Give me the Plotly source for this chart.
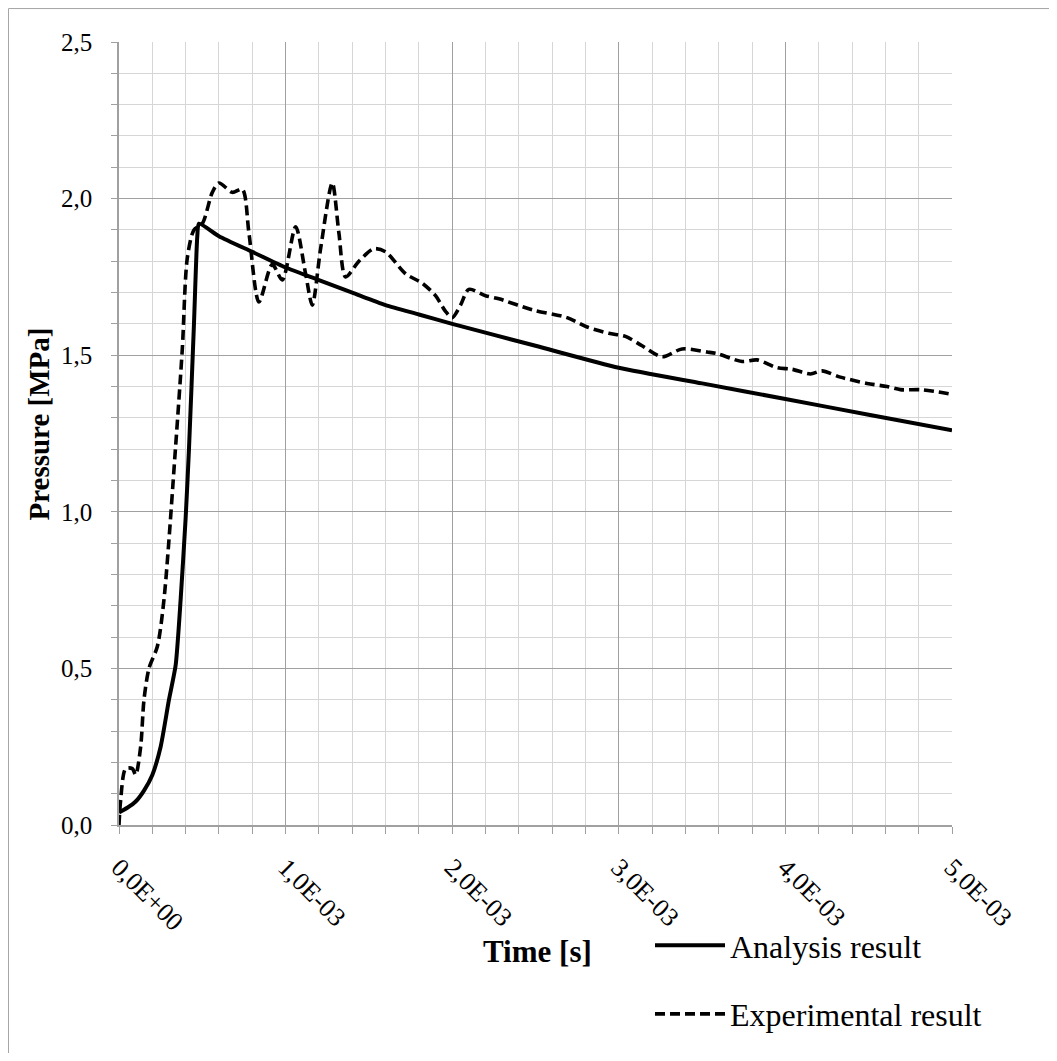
import plotly.graph_objects as go

# Analysis result (time in units of 1e-3 s, pressure in MPa)
t_analysis = [0.0, 0.05, 0.10, 0.15, 0.20, 0.25, 0.30, 0.34, 0.37, 0.40, 0.42, 0.45, 0.47, 0.48,
              0.60, 0.80, 1.00, 1.20, 1.40, 1.60, 1.80, 2.00, 2.50, 3.00, 3.50, 4.00, 4.50, 5.00]
p_analysis = [0.04, 0.055, 0.075, 0.11, 0.16, 0.25, 0.40, 0.51, 0.72, 0.98, 1.20, 1.60, 1.88, 1.92,
              1.88, 1.83, 1.78, 1.74, 1.70, 1.66, 1.63, 1.60, 1.53, 1.46, 1.41, 1.36, 1.31, 1.26]

# Experimental result
t_exp = [0.0, 0.01, 0.04, 0.08, 0.10, 0.13, 0.15, 0.18, 0.23, 0.27, 0.34, 0.38, 0.41, 0.45,
         0.50, 0.56, 0.60, 0.68, 0.74, 0.78, 0.84, 0.92, 0.98, 1.06, 1.12, 1.16, 1.21, 1.28,
         1.32, 1.36, 1.44, 1.53, 1.60, 1.72, 1.82, 1.90, 1.96, 2.00, 2.05, 2.10, 2.20, 2.28,
         2.48, 2.69, 2.81, 2.94, 3.04, 3.14, 3.26, 3.38, 3.53, 3.59, 3.74, 3.83, 3.95, 4.04,
         4.15, 4.22, 4.33, 4.49, 4.61, 4.69, 4.81, 4.89, 5.00]
p_exp = [0.0, 0.08, 0.18, 0.18, 0.16, 0.25, 0.40, 0.50, 0.57, 0.72, 1.21, 1.52, 1.81, 1.90,
         1.92, 2.02, 2.05, 2.02, 2.03, 1.89, 1.67, 1.79, 1.74, 1.91, 1.76, 1.66, 1.84, 2.05,
         1.89, 1.75, 1.80, 1.84, 1.83, 1.76, 1.73, 1.69, 1.64, 1.62, 1.66, 1.71, 1.69, 1.68,
         1.645, 1.62, 1.59, 1.57, 1.56, 1.53, 1.495, 1.52, 1.51, 1.505, 1.48, 1.485, 1.46, 1.455,
         1.44, 1.45, 1.43, 1.41, 1.40, 1.39, 1.39, 1.385, 1.375]

x_tickvals = [0.0, 1e-3, 2e-3, 3e-3, 4e-3, 5e-3]
x_ticktext = ["0,0E+00", "1,0E-03", "2,0E-03", "3,0E-03", "4,0E-03", "5,0E-03"]

FONT = "Liberation Serif"
OFF = 8                      # page body margin
W, H = 1041, 1045
SX0, SX1 = 119, 952          # plot area on screen (x)
SY0, SY1 = 42, 826           # plot area on screen (y, top/bottom)
L, T = SX0 - OFF, SY0 - OFF
R = OFF + W - SX1
B = OFF + H - SY1

def px(x):
    return (x - SX0) / (SX1 - SX0)

def py(y):
    return (SY1 - y) / (SY1 - SY0)

fig = go.Figure()
fig.add_trace(go.Scatter(
    x=[t * 1e-3 for t in t_analysis], y=p_analysis, mode="lines",
    name="Analysis result", legendgroup="a",
    line=dict(color="black", width=4, shape="spline", smoothing=0.6),
))
fig.add_trace(go.Scatter(
    x=[t * 1e-3 for t in t_exp], y=p_exp, mode="lines",
    name="Experimental result", legendgroup="b",
    line=dict(color="black", width=3.6, dash="10px,5px", shape="spline", smoothing=0.8),
))

fig.update_layout(
    width=W, height=H,
    margin=dict(l=L, r=R, t=T, b=B),
    paper_bgcolor="white", plot_bgcolor="white",
    separators=", ",
    font=dict(family=FONT, size=25, color="black"),
    showlegend=True,
    legend=dict(
        x=px(650), y=py(918), xanchor="left", yanchor="top",
        font=dict(family=FONT, size=32, color="black"),
        itemwidth=70, tracegroupgap=24, bgcolor="rgba(0,0,0,0)",
    ),
    xaxis=dict(
        range=[0, 5e-3], tickvals=x_tickvals, ticktext=x_ticktext,
        tickangle=45, tickfont=dict(family=FONT, size=26, color="black"),
        ticklabelstandoff=8,
        showgrid=True, gridcolor="#a0a0a0", gridwidth=1,
        ticks="outside", ticklen=7, tickcolor="#a0a0a0",
        showline=True, linecolor="#a0a0a0", linewidth=1.5,
        zeroline=False,
        minor=dict(dtick=0.2e-3, showgrid=True, gridcolor="#d6d6d6", gridwidth=1,
                   ticks="outside", ticklen=7, tickcolor="#a0a0a0"),
    ),
    yaxis=dict(
        range=[0, 2.5], dtick=0.5, tickformat=".1f",
        tickfont=dict(family=FONT, size=25, color="black"),
        ticklabelstandoff=14,
        showgrid=True, gridcolor="#a0a0a0", gridwidth=1,
        ticks="outside", ticklen=6, tickcolor="#a0a0a0",
        showline=True, linecolor="#a0a0a0", linewidth=1.5,
        zeroline=False,
        minor=dict(dtick=0.1, showgrid=True, gridcolor="#d6d6d6", gridwidth=1,
                   ticks="outside", ticklen=6, tickcolor="#a0a0a0"),
    ),
    annotations=[
        dict(text="<b>Time [s]</b>", x=px(537), y=py(953), xref="paper", yref="paper",
             xanchor="center", yanchor="middle",
             showarrow=False, font=dict(family=FONT, size=31, color="black")),
        dict(text="<b>Pressure [MPa]</b>", x=px(39), y=py(425), xref="paper", yref="paper",
             xanchor="center", yanchor="middle",
             showarrow=False, textangle=-90, font=dict(family=FONT, size=29, color="black")),
    ],
    shapes=[
        dict(type="rect", xref="paper", yref="paper",
             x0=px(OFF + 0.5), x1=px(1200), y0=py(1200), y1=py(OFF + 0.5),
             line=dict(color="#a6a6a6", width=1), fillcolor="rgba(0,0,0,0)", layer="below"),
    ],
)

fig.write_html("out.html")
